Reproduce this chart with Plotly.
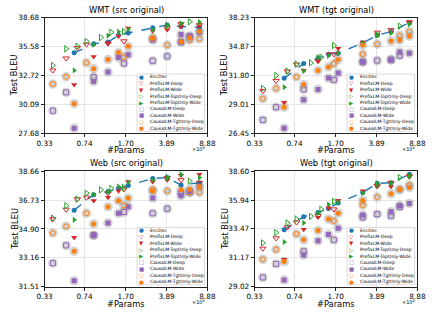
import math
import plotly.graph_objects as go

series_names = ["EncDec", "PrefixLM-Deep", "PrefixLM-Wide", "PrefixLM-TopOnly-Deep",
                "PrefixLM-TopOnly-Wide", "CausalLM-Deep", "CausalLM-Wide",
                "CausalLM-TgtOnly-Deep", "CausalLM-TgtOnly-Wide"]

# #Params (x 1e8) per series
params_encdec = [0.60, 0.89, 1.19, 1.47, 1.79, 2.94, 3.94, 5.21, 7.55]
params_prefix_deep = [0.39, 0.51, 0.64, 0.77, 1.19, 1.64, 3.94, 5.21, 7.55]
params_prefix_wide = [0.60, 0.89, 1.19, 1.47, 1.79, 2.94, 3.94, 5.21, 7.55]
params_toponly_deep = [0.39, 0.51, 0.64, 0.77, 1.03, 1.27, 1.64, 3.94, 6.21]
params_toponly_wide = [0.60, 0.89, 1.19, 1.47, 1.79, 2.94, 3.94, 5.21, 7.55]
params_causal_deep = [0.39, 0.51, 0.89, 1.64, 2.94, 3.94, 5.21, 6.21]
params_causal_wide = [0.60, 0.89, 1.19, 1.47, 1.79, 2.94, 5.21, 6.21, 7.55]
params_tgtonly_deep = [0.39, 0.51, 0.77, 1.64, 2.94, 3.94, 6.21, 7.55]
params_tgtonly_wide = [0.60, 0.89, 1.19, 1.47, 1.79, 2.94, 5.21, 6.21, 7.55]

# Test BLEU per panel
wmt_src = {
    "EncDec": [34.93, 35.86, 36.03, 36.76, 37.00, 37.55, 37.86, 37.69, 37.62],
    "PrefixLM-Deep": [33.20, 34.38, 35.44, 35.79, 35.89, 36.13, 37.52, 37.97, 37.86],
    "PrefixLM-Wide": [31.85, 34.54, 35.96, 36.65, 37.52, 37.21, 37.34, 37.69, 37.76],
    "PrefixLM-TopOnly-Deep": [33.68, 35.34, 35.61, 36.10, 36.51, 37.07, 37.14, 37.83, 38.21],
    "PrefixLM-TopOnly-Wide": [33.20, 35.75, 36.72, 37.14, 37.41, 37.34, 37.76, 38.04, 38.18],
    "CausalLM-Deep": [29.54, 31.15, 32.56, 33.87, 34.13, 34.58, 36.03, 36.65],
    "CausalLM-Wide": [28.08, 32.15, 33.04, 34.45, 34.74, 36.24, 36.83, 36.65, 37.07],
    "CausalLM-TgtOnly-Deep": [31.91, 32.59, 33.94, 34.48, 36.38, 35.72, 36.24, 36.38],
    "CausalLM-TgtOnly-Wide": [30.15, 33.36, 34.26, 34.96, 35.61, 36.48, 36.07, 36.48, 37.17],
}
wmt_tgt = {
    "EncDec": [31.51, 33.03, 33.58, 34.03, 34.13, 35.27, 36.13, 36.57, 37.62],
    "PrefixLM-Deep": [30.26, 31.26, 32.21, 32.93, 33.34, 34.03, 36.45, 36.75, 37.69],
    "PrefixLM-Wide": [29.17, 32.31, 33.24, 34.03, 34.65, 35.35, 36.22, 36.45, 37.58],
    "PrefixLM-TopOnly-Deep": [30.51, 31.80, 32.25, 32.97, 33.10, 33.69, 34.98, 36.18, 37.21],
    "PrefixLM-TopOnly-Wide": [30.63, 32.25, 33.69, 33.86, 34.13, 35.27, 36.13, 36.41, 37.43],
    "CausalLM-Deep": [27.59, 28.74, 30.41, 31.35, 33.17, 33.34, 33.45, 33.86],
    "CausalLM-Wide": [26.88, 29.42, 30.41, 31.53, 32.04, 33.24, 33.41, 34.27, 34.13],
    "CausalLM-TgtOnly-Deep": [29.54, 30.51, 31.65, 33.00, 34.03, 35.13, 36.10, 36.57],
    "CausalLM-TgtOnly-Wide": [28.74, 30.88, 32.31, 32.66, 33.45, 35.02, 35.47, 35.58, 36.03],
}
web_src = {
    "EncDec": [36.08, 37.08, 37.29, 37.51, 37.68, 38.16, 38.22, 37.72, 37.87],
    "PrefixLM-Deep": [35.51, 36.12, 36.79, 36.90, 37.18, 37.44, 38.20, 38.05, 37.87],
    "PrefixLM-Wide": [34.38, 36.69, 36.90, 37.33, 37.94, 37.94, 38.05, 38.37, 38.44],
    "PrefixLM-TopOnly-Deep": [35.57, 36.37, 36.79, 37.18, 37.40, 37.49, 37.55, 38.22, 37.98],
    "PrefixLM-TopOnly-Wide": [35.47, 37.08, 37.29, 37.62, 37.90, 38.05, 38.20, 38.44, 38.22],
    "CausalLM-Deep": [32.85, 33.90, 34.52, 35.96, 35.88, 36.17, 37.18, 37.29],
    "CausalLM-Wide": [31.84, 34.50, 35.27, 35.88, 36.29, 36.86, 37.01, 37.23, 37.62],
    "CausalLM-TgtOnly-Deep": [34.65, 35.06, 35.88, 36.37, 37.40, 37.33, 37.23, 37.23],
    "CausalLM-TgtOnly-Wide": [33.55, 35.21, 36.29, 36.69, 36.86, 37.33, 37.40, 37.44, 37.62],
}
web_tgt = {
    "EncDec": [33.39, 34.49, 34.85, 35.20, 35.68, 36.62, 37.45, 37.51, 38.29],
    "PrefixLM-Deep": [31.89, 32.71, 33.61, 34.02, 34.57, 35.13, 37.22, 37.51, 38.11],
    "PrefixLM-Wide": [31.05, 33.42, 34.44, 35.26, 35.91, 36.77, 37.16, 37.16, 38.05],
    "PrefixLM-TopOnly-Deep": [32.33, 33.16, 33.97, 34.30, 34.52, 35.13, 35.82, 37.31, 37.99],
    "PrefixLM-TopOnly-Wide": [32.40, 33.97, 34.79, 35.54, 35.73, 36.56, 37.45, 37.45, 38.14],
    "CausalLM-Deep": [29.69, 30.70, 31.68, 32.58, 34.44, 34.71, 34.57, 35.34],
    "CausalLM-Wide": [29.50, 31.38, 32.51, 33.01, 33.53, 34.63, 34.91, 35.46, 35.64],
    "CausalLM-TgtOnly-Deep": [31.05, 31.81, 33.06, 34.13, 35.48, 36.21, 36.92, 37.31],
    "CausalLM-TgtOnly-Wide": [30.88, 32.58, 33.33, 34.30, 34.79, 35.91, 36.50, 36.86, 37.07],
}

panel_titles = ["WMT (src original)", "WMT (tgt original)", "Web (src original)", "Web (tgt original)"]
panel_data = [wmt_src, wmt_tgt, web_src, web_tgt]
x_ticks = [0.33, 0.74, 1.70, 3.89, 8.88]
y_ticks = [
    [27.68, 30.09, 32.72, 35.58, 38.68],
    [26.45, 29.01, 31.80, 34.87, 38.23],
    [31.51, 33.16, 34.90, 36.73, 38.66],
    [29.02, 31.17, 33.47, 35.94, 38.60],
]

params = {
    "EncDec": params_encdec,
    "PrefixLM-Deep": params_prefix_deep,
    "PrefixLM-Wide": params_prefix_wide,
    "PrefixLM-TopOnly-Deep": params_toponly_deep,
    "PrefixLM-TopOnly-Wide": params_toponly_wide,
    "CausalLM-Deep": params_causal_deep,
    "CausalLM-Wide": params_causal_wide,
    "CausalLM-TgtOnly-Deep": params_tgtonly_deep,
    "CausalLM-TgtOnly-Wide": params_tgtonly_wide,
}

BLUE, RED, GREEN, PURPLE, ORANGE = "#1f77b4", "#d62728", "#2ca02c", "#9467bd", "#ff7f0e"
style = {
    "EncDec": (BLUE, "circle", "●"),
    "PrefixLM-Deep": (RED, "triangle-down-open", "▽"),
    "PrefixLM-Wide": (RED, "triangle-down", "▼"),
    "PrefixLM-TopOnly-Deep": (GREEN, "triangle-right-open", "▷"),
    "PrefixLM-TopOnly-Wide": (GREEN, "triangle-right", "▶"),
    "CausalLM-Deep": (PURPLE, "square-open", "□"),
    "CausalLM-Wide": (PURPLE, "square", "■"),
    "CausalLM-TgtOnly-Deep": (ORANGE, "circle-open", "○"),
    "CausalLM-TgtOnly-Wide": (ORANGE, "circle", "●"),
}

W, H = 436, 316
col_px = [(38, 207), (256, 425)]
row_px = [(14, 133), (172, 291)]
FONT = "DejaVu Sans"

fig = go.Figure()
layout = dict(width=W, height=H, margin=dict(l=0, r=0, t=0, b=0),
              paper_bgcolor="white", plot_bgcolor="white", showlegend=False,
              font=dict(family=FONT, color="black"))
annotations = []
shapes = []

for i in range(4):
    r, c = divmod(i, 2)
    sfx = "" if i == 0 else str(i + 1)
    xa, ya = "x" + sfx, "y" + sfx
    x0, x1 = col_px[c]
    y0, y1 = row_px[r]
    ax_common = dict(showline=True, mirror=True, linecolor="#222", linewidth=0.8,
                     ticks="outside", ticklen=3, tickwidth=0.8, tickcolor="#222",
                     showgrid=True, gridcolor="#e6e6e6", gridwidth=0.6, zeroline=False,
                     tickfont=dict(size=7.3, family=FONT, color="black"))
    layout["xaxis" + sfx] = dict(ax_common, type="log", domain=[x0 / W, x1 / W],
                                 range=[math.log10(x_ticks[0]), math.log10(x_ticks[-1])],
                                 tickmode="array", tickvals=x_ticks,
                                 ticktext=["%.2f" % v for v in x_ticks], anchor=ya)
    yt = y_ticks[i]
    layout["yaxis" + sfx] = dict(ax_common, type="log", domain=[1 - y1 / H, 1 - y0 / H],
                                 range=[math.log10(yt[0]), math.log10(yt[-1])],
                                 tickmode="array", tickvals=yt,
                                 ticktext=["%.2f" % v for v in yt], anchor=xa)
    data = panel_data[i]
    # halos for CausalLM family
    for name in series_names:
        if name.startswith("CausalLM"):
            fig.add_trace(go.Scatter(x=params[name], y=data[name], mode="markers",
                                     xaxis=xa, yaxis=ya, hoverinfo="skip",
                                     marker=dict(symbol="circle", size=9.5,
                                                 color="rgba(160,160,160,0.45)",
                                                 line=dict(width=0))))
    for name in series_names:
        color, sym, _ = style[name]
        open_ = sym.endswith("open")
        mk = dict(symbol=sym, size=5.5 if "triangle" in sym else 5,
                  color=color, line=dict(width=1 if open_ else 0, color=color))
        if name == "EncDec":
            fig.add_trace(go.Scatter(x=params[name], y=data[name], mode="lines+markers",
                                     xaxis=xa, yaxis=ya, name=name,
                                     line=dict(color=color, width=1.4, dash="dash"),
                                     marker=mk))
        else:
            fig.add_trace(go.Scatter(x=params[name], y=data[name], mode="markers",
                                     xaxis=xa, yaxis=ya, name=name, marker=mk))

    ph = y1 - y0
    pw = x1 - x0
    xd, yd = xa + " domain", ya + " domain"
    annotations.append(dict(text=panel_titles[i], xref=xd, yref=yd, x=0.5, y=(ph + 8) / ph,
                             xanchor="center", yanchor="middle", showarrow=False,
                             font=dict(size=8.3, family=FONT)))
    annotations.append(dict(text="#Params", xref=xd, yref=yd, x=0.5, y=-17.5 / ph,
                            xanchor="center", yanchor="middle", showarrow=False,
                            font=dict(size=8.3, family=FONT)))
    annotations.append(dict(text="Test BLEU", xref=xd, yref=yd, x=-(x0 - c * 218 - 7) / pw,
                            y=0.5, xanchor="center", yanchor="middle", showarrow=False,
                            textangle=-90, font=dict(size=8.3, family=FONT)))
    annotations.append(dict(text="×10<sup>8</sup>", xref=xd, yref=yd, x=1.0, y=-16 / ph,
                            xanchor="right", yanchor="middle", showarrow=False,
                            font=dict(size=5, family=FONT)))
    # legend box
    shapes.append(dict(type="rect", xref=xd, yref=yd, x0=96 / pw, x1=166 / pw,
                       y0=2 / ph, y1=61 / ph, fillcolor="rgba(255,255,255,0.85)",
                       line=dict(color="#cccccc", width=0.7), layer="above"))
    for k, name in enumerate(series_names):
        color, _, glyph = style[name]
        yy = (58 - 6.6 * k) / ph
        annotations.append(dict(text=glyph, xref=xd, yref=yd, x=101 / pw, y=yy,
                                xanchor="center", yanchor="middle", showarrow=False,
                                font=dict(size=5.5, family=FONT, color=color)))
        annotations.append(dict(text=name, xref=xd, yref=yd, x=107 / pw, y=yy,
                                xanchor="left", yanchor="middle", showarrow=False,
                                font=dict(size=4.5, family=FONT, color="black")))

layout["annotations"] = annotations
layout["shapes"] = shapes
fig.update_layout(**layout)
fig.write_html("out.html", config={"displayModeBar": False},
               post_script="document.body.style.margin='0';")
